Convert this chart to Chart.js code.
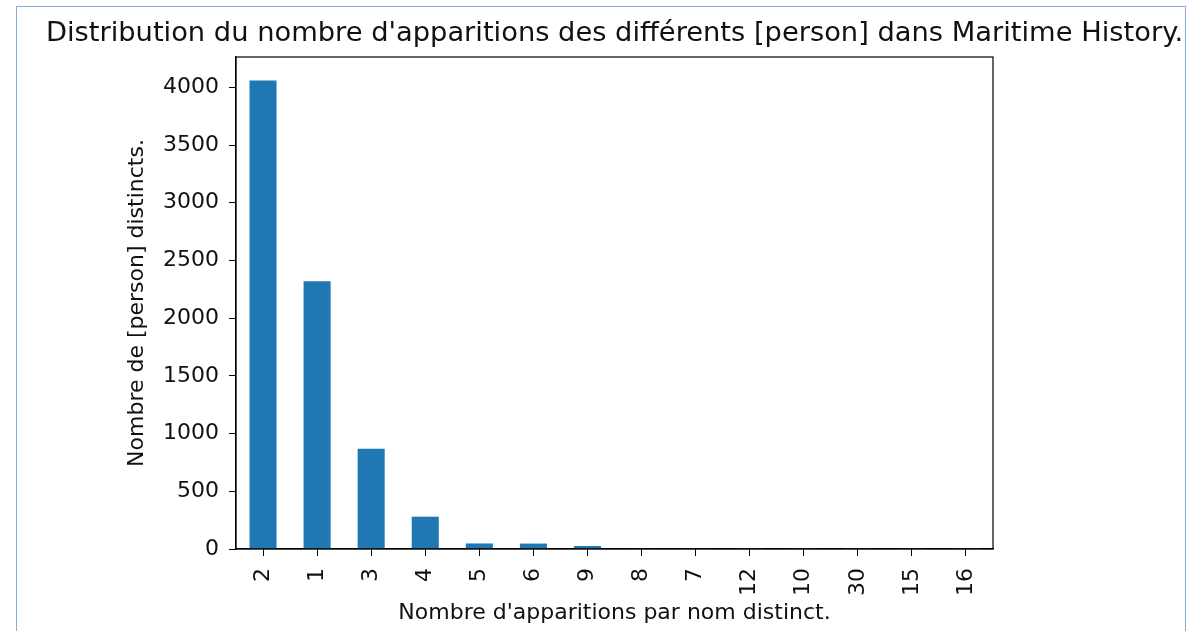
<!DOCTYPE html>
<html>
<head>
<meta charset="utf-8">
<script src="https://cdn.jsdelivr.net/npm/chart.js@4/dist/chart.umd.min.js"></script>
<style>
  html, body { margin: 0; padding: 0; background: #fff; }
  #wrap { position: relative; width: 1194px; height: 631px; overflow: hidden; }
  #frame {
    position: absolute; left: 16px; top: 6px; width: 1170px; height: 640px;
    border: 1px solid #8aa9d8; box-sizing: border-box;
  }
  canvas { position: absolute; left: 0; top: 0; }
</style>
</head>
<body>
<div id="wrap">
  <div id="frame"></div>
  <canvas id="chart" width="1194" height="631"></canvas>
</div>
<script>
const titleText = "Distribution du nombre d'apparitions des différents [person] dans Maritime History.";
const xLabel = "Nombre d'apparitions par nom distinct.";
const yLabel = "Nombre de [person] distincts.";

// occurrences per distinct name (sorted by count, as in the figure)
const categories = ['2', '1', '3', '4', '5', '6', '9', '8', '7', '12', '10', '30', '15', '16'];
const counts = [4060, 2320, 868, 280, 48, 47, 26, 3, 2, 1, 1, 1, 1, 1];
const yTicks = [0, 500, 1000, 1500, 2000, 2500, 3000, 3500, 4000];

const font = "'DejaVu Sans', sans-serif";

// matplotlib-style full box around the axes + the title
const boxPlugin = {
  id: 'axesBox',
  afterDraw(chart) {
    const { ctx, chartArea: a } = chart;
    ctx.save();
    ctx.strokeStyle = '#000';
    ctx.lineWidth = 1.2;
    ctx.strokeRect(a.left, a.top, a.right - a.left, a.bottom - a.top);

    // title is wider than the axes, so draw it unclipped, centred on them
    ctx.fillStyle = '#111';
    ctx.font = '27.3px ' + font;
    ctx.textAlign = 'center';
    ctx.textBaseline = 'alphabetic';
    ctx.fillText(titleText, (a.left + a.right) / 2, 41);
    ctx.restore();
  }
};

new Chart(document.getElementById('chart'), {
  type: 'bar',
  data: {
    labels: categories,
    datasets: [{
      data: counts,
      backgroundColor: '#1f77b4',
      borderWidth: 0,
      barPercentage: 0.5,
      categoryPercentage: 1.0
    }]
  },
  options: {
    responsive: false,
    animation: false,
    layout: { padding: { left: 0, right: 201, top: 57, bottom: 0 } },
    plugins: {
      legend: { display: false },
      tooltip: { enabled: false },
      title: { display: false }
    },
    scales: {
      x: {
        offset: true,
        grid: { display: true, offset: false, drawOnChartArea: false, drawTicks: true, tickLength: 7, color: '#000' },
        border: { display: true, color: '#000', width: 1.2 },
        ticks: {
          autoSkip: false, maxRotation: 90, minRotation: 90,
          padding: 12, color: '#111',
          font: { family: font, size: 22 }
        },
        title: {
          display: true, text: xLabel, color: '#111',
          font: { family: font, size: 22 },
          padding: { top: 0, bottom: 5 }
        },
        afterFit(scale) { scale.height = 82; }
      },
      y: {
        min: 0,
        max: Math.max(...counts) * 1.05,
        grid: { display: true, drawOnChartArea: false, drawTicks: true, tickLength: 7, color: '#000' },
        border: { display: true, color: '#000', width: 1.2 },
        ticks: {
          padding: 10, color: '#111',
          font: { family: font, size: 22 },
          callback: v => String(v)
        },
        afterBuildTicks(scale) { scale.ticks = yTicks.map(v => ({ value: v })); },
        title: {
          display: true, text: yLabel, color: '#111',
          font: { family: font, size: 22 },
          padding: { top: 124, bottom: 0 }
        },
        afterFit(scale) { scale.width = 236; }
      }
    }
  },
  plugins: [boxPlugin]
});
</script>
</body>
</html>
